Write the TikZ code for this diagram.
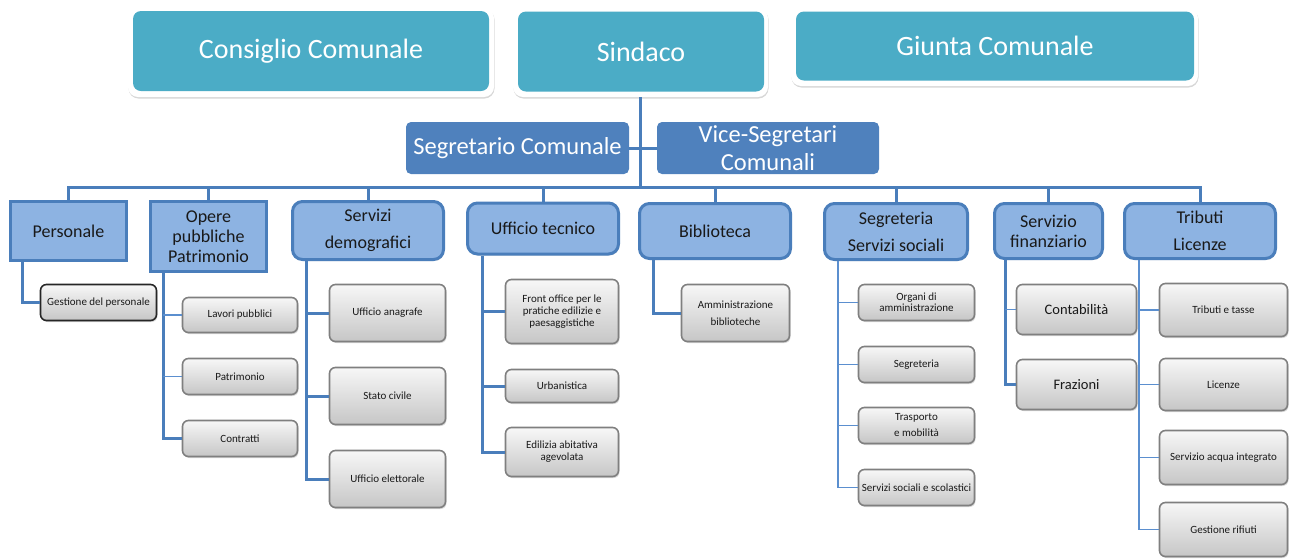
\documentclass[tikz,border=0pt]{standalone}
\usepackage{fontspec}
\setmainfont{Carlito}
\usetikzlibrary{shadows}
\definecolor{topc}{HTML}{4BACC6}
\definecolor{segc}{HTML}{4F81BD}
\definecolor{deptf}{HTML}{8DB3E2}
\definecolor{deptb}{HTML}{4A7EBB}
\definecolor{connc}{HTML}{4A7EBB}
\definecolor{connl}{HTML}{5B8FCF}
\definecolor{subb}{HTML}{7F7F7F}
\definecolor{subt}{HTML}{F7F7F7}
\definecolor{subbot}{HTML}{C6C6C6}
\tikzset{
  topouter/.style={fill=white, rounded corners=10pt, inner sep=0pt,
    drop shadow={shadow xshift=0.5pt, shadow yshift=-1.5pt, fill=black!35, opacity=.45}},
  topinner/.style={fill=topc, rounded corners=8pt, text=white, inner sep=0pt,
    font=\fontsize{28}{32}\selectfont},
  segbox/.style={fill=segc, rounded corners=5pt, text=white, inner sep=0pt, align=center,
    font=\fontsize{24.5}{28}\selectfont},
  dept/.style={fill=deptf, draw=deptb, line width=3pt, inner sep=0pt, align=center,
    text=black!90, font=\fontsize{18}{20}\selectfont,
    drop shadow={shadow xshift=1pt, shadow yshift=-1.5pt, fill=black!30, opacity=.4}},
  deptr/.style={dept, rounded corners=10pt},
  subbox/.style={draw=subb, line width=1.6pt, rounded corners=6pt, inner sep=0pt,
    top color=subt, bottom color=subbot, align=center, text=black!90,
    font=\fontsize{11}{12}\selectfont,
    drop shadow={shadow xshift=1pt, shadow yshift=-1.5pt, fill=black!35, opacity=.45}},
  thickc/.style={draw=connc, line width=3pt},
  thinc/.style={draw=connl, line width=1.4pt},
}
\begin{document}
\begin{tikzpicture}[x=1pt,y=-1pt]
\useasboundingbox (0,0) rectangle (1293,558);

% top row
\node[topouter, minimum width=366pt, minimum height=89pt] (cco) at (311,52.5) {};
\node[topinner, minimum width=356pt, minimum height=80pt] (cc) at (311,51) {Consiglio Comunale};
\node[topouter, minimum width=255pt, minimum height=89pt] (sino) at (640.5,52.5) {};
\node[topinner, minimum width=246pt, minimum height=80pt] (sin) at (641,51.5) {Sindaco};
\node[topouter, minimum width=407pt, minimum height=78pt] (gco) at (994.5,47) {};
\node[topinner, minimum width=398pt, minimum height=69pt] (gc) at (995,46) {Giunta Comunale};

% secretaries
\node[segbox, minimum width=223pt, minimum height=52pt] (seg) at (517.5,148) {Segretario Comunale};
\node[segbox, minimum width=222pt, minimum height=52pt] (vice) at (768,148) {Vice-Segretari\\Comunali};

% departments
\node[dept, minimum width=116pt, minimum height=59pt] (pers) at (68.5,231) {Personale};
\node[dept, minimum width=116pt, minimum height=70pt] (opere) at (208.5,236.5) {Opere\\pubbliche\\Patrimonio};
\node[deptr, minimum width=151pt, minimum height=58pt] (sdem) at (368,230.5) {Servizi\\[7pt]demografici};
\node[deptr, minimum width=151pt, minimum height=51pt] (utec) at (543,228.5) {Ufficio tecnico};
\node[deptr, minimum width=151pt, minimum height=55pt] (bib) at (715,231) {Biblioteca};
\node[deptr, minimum width=143pt, minimum height=56pt] (segr) at (896,231.5) {Segreteria\\[7pt]Servizi sociali};
\node[deptr, minimum width=108pt, minimum height=55pt] (fin) at (1048.5,231) {Servizio\\finanziario};
\node[deptr, minimum width=151pt, minimum height=55pt] (trib) at (1200,231) {Tributi\\[7pt]Licenze};

% sub boxes
\node[subbox, draw=black!85, minimum width=116pt, minimum height=36pt] (gdp) at (98.5,302.5) {Gestione del personale};

\node[subbox, minimum width=115pt, minimum height=35pt] (lp) at (240,315) {Lavori pubblici};
\node[subbox, minimum width=115pt, minimum height=36pt] (pat) at (240,376.5) {Patrimonio};
\node[subbox, minimum width=115pt, minimum height=36pt] (ctr) at (240,438.5) {Contratti};

\node[subbox, minimum width=116pt, minimum height=57pt] (ua) at (387.5,313) {Ufficio anagrafe};
\node[subbox, minimum width=116pt, minimum height=57pt] (sc) at (387.5,396) {Stato civile};
\node[subbox, minimum width=116pt, minimum height=57pt] (ue) at (387.5,479) {Ufficio elettorale};

\node[subbox, minimum width=113pt, minimum height=64pt] (fo) at (562,311.5) {Front office per le\\pratiche edilizie e\\paesaggistiche};
\node[subbox, minimum width=113pt, minimum height=33pt] (urb) at (562,386) {Urbanistica};
\node[subbox, minimum width=113pt, minimum height=49pt] (eaa) at (562,452) {Edilizia abitativa\\agevolata};

\node[subbox, minimum width=108pt, minimum height=57pt] (ab) at (735.5,313) {Amministrazione\\[5pt]biblioteche};

\node[subbox, minimum width=116pt, minimum height=36pt] (oda) at (916.5,302.5) {Organi di\\[-1pt]amministrazione};
\node[subbox, minimum width=116pt, minimum height=36pt] (sgr) at (916.5,364.5) {Segreteria};
\node[subbox, minimum width=116pt, minimum height=36pt] (tem) at (916.5,425.5) {Trasporto\\[4pt]e mobilità};
\node[subbox, minimum width=116pt, minimum height=36pt] (sss) at (916.5,487.5) {Servizi sociali e scolastici};

\node[subbox, minimum width=120pt, minimum height=50pt, font=\fontsize{14.5}{16}\selectfont] (cont) at (1076.5,309.5) {Contabilità};
\node[subbox, minimum width=120pt, minimum height=50pt, font=\fontsize{14.5}{16}\selectfont] (fraz) at (1076.5,384.5) {Frazioni};

\node[subbox, minimum width=128pt, minimum height=53pt] (tt) at (1223.5,310) {Tributi e tasse};
\node[subbox, minimum width=128pt, minimum height=52pt] (lic) at (1223.5,384.5) {Licenze};
\node[subbox, minimum width=128pt, minimum height=54pt] (sai) at (1223.5,457.5) {Servizio acqua integrato};
\node[subbox, minimum width=128pt, minimum height=54pt] (gr) at (1223.5,529.5) {Gestione rifiuti};

% connectors: top
\coordinate (bus) at (0,187);
\draw[thickc] (sino.south) -- (sino.south |- bus);
\draw[thickc] (seg.east) -- (vice.west);
\draw[thickc] (pers.north) -- (pers.north |- bus) -- (trib.north |- bus) -- (trib.north);
\foreach \n in {opere,sdem,utec,bib,segr,fin}
  \draw[thickc] (\n.north) -- (\n.north |- bus);

% Personale
\draw[thickc] ([xshift=13pt]pers.south west) |- (gdp.west);
% Opere
\coordinate (os) at ([xshift=14pt]opere.south west);
\draw[thickc] (os) |- (ctr.west);
\draw[thinc] (lp.west) -- (lp.west -| os);
\draw[thinc] (pat.west) -- (pat.west -| os);
% Servizi demografici
\coordinate (ds) at ([xshift=15pt]sdem.south west);
\draw[thickc] (ds) |- (ue.west);
\draw[thickc] (ua.west) -- (ua.west -| ds);
\draw[thickc] (sc.west) -- (sc.west -| ds);
% Ufficio tecnico
\coordinate (ts) at ([xshift=16pt]utec.south west);
\draw[thickc] (ts) |- (eaa.west);
\draw[thickc] (fo.west) -- (fo.west -| ts);
\draw[thickc] (urb.west) -- (urb.west -| ts);
% Biblioteca
\draw[thickc] ([xshift=15pt]bib.south west) |- (ab.west);
% Segreteria
\coordinate (ss) at ([xshift=15pt]segr.south west);
\draw[thinc] (ss) |- (sss.west);
\draw[thinc] (oda.west) -- (oda.west -| ss);
\draw[thinc] (sgr.west) -- (sgr.west -| ss);
\draw[thinc] (tem.west) -- (tem.west -| ss);
% Finanziario
\coordinate (fs) at ([xshift=12pt]fin.south west);
\draw[thickc] (fs) |- (fraz.west);
\draw[thinc] (cont.west) -- (cont.west -| fs);
% Tributi
\coordinate (rs) at ([xshift=16pt]trib.south west);
\draw[thinc] (rs) |- (gr.west);
\draw[thinc] (tt.west) -- (tt.west -| rs);
\draw[thinc] (lic.west) -- (lic.west -| rs);
\draw[thinc] (sai.west) -- (sai.west -| rs);
\end{tikzpicture}
\end{document}
